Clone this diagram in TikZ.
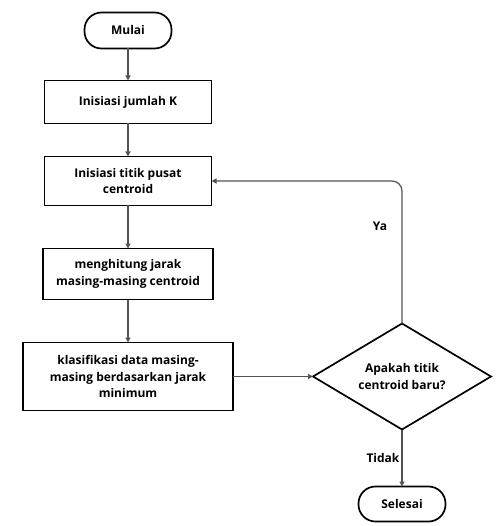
\documentclass[tikz,border=0pt]{standalone}
\usepackage{fontspec}
\setmainfont{Open Sans}
\usepackage{tikz}
\usetikzlibrary{arrows.meta,positioning,shapes.geometric}

\definecolor{flowgray}{HTML}{57524E}

\begin{document}
\begin{tikzpicture}[
  x=1pt,y=-1pt,
  font=\fontsize{12}{16.5}\selectfont\bfseries,
  term/.style={draw,line width=1.7pt,outer sep=0pt,rounded corners=17pt,align=center,minimum width=87pt,minimum height=36pt},
  proc/.style={draw,line width=1.7pt,outer sep=0pt,align=center,inner sep=2pt},
  cond/.style={draw,line width=1.7pt,outer sep=0pt,diamond,aspect=1.7,align=center,inner sep=0pt,minimum width=178pt,minimum height=106pt},
  flow/.style={draw=flowgray,line width=1.2pt,-{Triangle[length=5pt,width=5pt]}},
  lbl/.style={font=\fontsize{12}{14}\selectfont\bfseries}
]
\useasboundingbox (0,0) rectangle (501,526);

\node[term] (mulai) at (128,30.5) {Mulai};
\node[proc,below=32pt of mulai,minimum width=167pt,minimum height=43pt] (jumlah) {Inisiasi jumlah K};
\node[proc,below=33pt of jumlah,minimum width=167pt,minimum height=49pt] (pusat) {Inisiasi titik pusat\\centroid};
\node[proc,below=43pt of pusat,minimum width=170pt,minimum height=51pt] (hitung) {menghitung jarak\\masing-masing centroid};
\node[proc,below=43pt of hitung,minimum width=210pt,minimum height=68pt] (klas) {klasifikasi data masing-\\masing berdasarkan jarak\\minimum};
\node[cond,right=80pt of klas] (cek) {Apakah titik\\centroid baru?};
\node[term,below=57pt of cek,minimum height=35pt] (selesai) {Selesai};

\draw[flow] (mulai) -- (jumlah);
\draw[flow] (jumlah) -- (pusat);
\draw[flow] (pusat) -- (hitung);
\draw[flow] (hitung) -- (klas);
\draw[flow] (klas) -- (cek);
\draw[flow,rounded corners=10pt] (cek.north) |- node[lbl,pos=0.34,left=11pt]{Ya} (pusat.east);
\draw[flow] (cek) -- node[lbl,left,inner sep=2pt]{Tidak} (selesai);
\end{tikzpicture}
\end{document}
